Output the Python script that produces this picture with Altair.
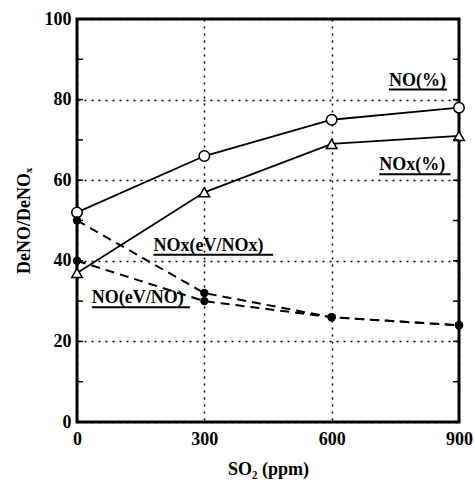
import altair as alt
import pandas as pd

so2 = [0, 300, 600, 900]
no_pct = [52, 66, 75, 78]
nox_pct = [37, 57, 69, 71]
nox_ev = [50, 32, 26, 24]
no_ev = [40, 30, 26, 24]

label_text = ["NO(%)", "NOx(%)", "NOx(eV/NOx)", "NO(eV/NO)"]
label_x = [735, 712, 180, 35]
label_x2 = [872, 880, 462, 266]
label_y = [82.5, 61.5, 41.5, 28.5]

FONT = "Liberation Serif"
FS = 18

rows = []
for name, vals in [("NO(%)", no_pct), ("NOx(%)", nox_pct),
                   ("NOx(eV/NOx)", nox_ev), ("NO(eV/NO)", no_ev)]:
    for s, v in zip(so2, vals):
        rows.append({"so2": s, "val": v, "series": name})
df = pd.DataFrame(rows)
labels = pd.DataFrame({"so2": label_x, "x2": label_x2, "val": label_y, "text": label_text})
minor = pd.DataFrame({"val": [10, 20, 30, 40, 50, 60, 70, 80, 90]})

xs = alt.Scale(domain=[0, 900], nice=False)
ys = alt.Scale(domain=[0, 100], nice=False)

xaxis = alt.Axis(values=[0, 300, 600, 900], title="SO₂ (ppm)", grid=True,
                 gridDash=[2, 5], gridColor="black", gridWidth=1.5, gridOpacity=1,
                 ticks=False, domain=False, labelFont=FONT, labelFontSize=FS,
                 labelFontWeight="bold", labelColor="black", labelPadding=8,
                 titleFont=FONT, titleFontSize=FS, titleFontWeight="bold",
                 titleColor="black", titlePadding=12, labelFlush=False)
yaxis = alt.Axis(values=[0, 20, 40, 60, 80, 100], title="DeNO/DeNOₓ", grid=True,
                 gridDash=[2, 5], gridColor="black", gridWidth=1.5, gridOpacity=1,
                 ticks=False, domain=False, labelFont=FONT, labelFontSize=FS,
                 labelFontWeight="bold", labelColor="black", labelPadding=6,
                 titleFont=FONT, titleFontSize=FS, titleFontWeight="bold",
                 titleColor="black", titlePadding=11)

X = alt.X("so2:Q", scale=xs, axis=xaxis)
Y = alt.Y("val:Q", scale=ys, axis=yaxis)

base = alt.Chart(df)

solid = base.transform_filter(
    alt.FieldOneOfPredicate(field="series", oneOf=["NO(%)", "NOx(%)"])
).mark_line(color="black", strokeWidth=1.8).encode(x=X, y=Y, detail="series:N")

dashed = base.transform_filter(
    alt.FieldOneOfPredicate(field="series", oneOf=["NOx(eV/NOx)", "NO(eV/NO)"])
).mark_line(color="black", strokeWidth=2, strokeDash=[9, 6]).encode(
    x=X, y=Y, detail="series:N")

circ = base.transform_filter(alt.datum.series == "NO(%)").mark_point(
    shape="circle", filled=True, fill="white", stroke="black", strokeWidth=1.5,
    size=110, opacity=1).encode(x=X, y=Y)

tri = base.transform_filter(alt.datum.series == "NOx(%)").mark_point(
    shape="triangle-up", filled=True, fill="white", stroke="black", strokeWidth=1.5,
    size=110, opacity=1).encode(x=X, y=Y)

filled = base.transform_filter(
    alt.FieldOneOfPredicate(field="series", oneOf=["NOx(eV/NOx)", "NO(eV/NO)"])
).mark_point(shape="circle", filled=True, color="black", size=70, opacity=1).encode(
    x=X, y=Y)

lab = alt.Chart(labels).mark_text(
    align="left", baseline="bottom", font=FONT, fontSize=FS, fontWeight="bold",
    color="black", dy=0).encode(x=X, y=Y, text="text:N")

under = alt.Chart(labels).mark_rule(color="black", strokeWidth=2).encode(
    x=X, x2="x2:Q", y=Y)

lt = alt.Chart(minor).mark_rule(color="black", strokeWidth=1.5).encode(
    y=Y, x=alt.value(0), x2=alt.value(6))
rt = alt.Chart(minor).mark_rule(color="black", strokeWidth=1.5).encode(
    y=Y, x=alt.value(376), x2=alt.value(382))

chart = alt.layer(solid, dashed, circ, tri, filled, under, lab, lt, rt).properties(
    width=382, height=403,
    autosize=alt.AutoSizeParams(type="none"),
    padding={"left": 77, "top": 19, "right": 16, "bottom": 58},
    background="white",
).configure_view(stroke="black", strokeWidth=3)

chart.save("out.html", embed_options={"renderer": "svg", "actions": False})
